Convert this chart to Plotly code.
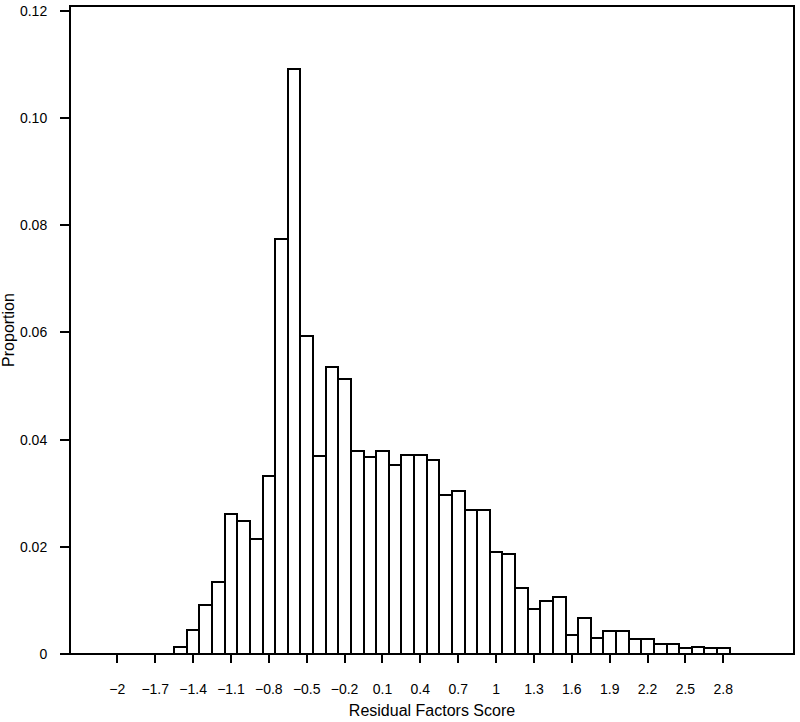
import plotly.graph_objects as go

bin_centers = [-1.5, -1.4, -1.3, -1.2, -1.1, -1.0, -0.9, -0.8, -0.7, -0.6,
               -0.5, -0.4, -0.3, -0.2, -0.1, 0.0, 0.1, 0.2, 0.3, 0.4,
               0.5, 0.6, 0.7, 0.8, 0.9, 1.0, 1.1, 1.2, 1.3, 1.4,
               1.5, 1.6, 1.7, 1.8, 1.9, 2.0, 2.1, 2.2, 2.3, 2.4,
               2.5, 2.6, 2.7, 2.8]
proportion = [0.0013, 0.0045, 0.0092, 0.0134, 0.0261, 0.0249, 0.0215, 0.0333, 0.0775, 0.1091,
              0.0594, 0.0370, 0.0536, 0.0514, 0.0378, 0.0368, 0.0378, 0.0353, 0.0371, 0.0371,
              0.0362, 0.0296, 0.0305, 0.0268, 0.0268, 0.0190, 0.0186, 0.0123, 0.0084, 0.0099,
              0.0106, 0.0036, 0.0067, 0.0030, 0.0043, 0.0043, 0.0028, 0.0028, 0.0019, 0.0019,
              0.0011, 0.0013, 0.0011, 0.0011]

x_tick_vals = [-2, -1.7, -1.4, -1.1, -0.8, -0.5, -0.2, 0.1, 0.4, 0.7, 1, 1.3, 1.6, 1.9, 2.2, 2.5, 2.8]
x_tick_text = ["\u22122", "\u22121.7", "\u22121.4", "\u22121.1", "\u22120.8", "\u22120.5", "\u22120.2",
               "0.1", "0.4", "0.7", "1", "1.3", "1.6", "1.9", "2.2", "2.5", "2.8"]
y_tick_vals = [0, 0.02, 0.04, 0.06, 0.08, 0.10, 0.12]
y_tick_text = ["0", "0.02", "0.04", "0.06", "0.08", "0.10", "0.12"]

FONT = "Liberation Sans Narrow, Arial Narrow, Liberation Sans, Arial, sans-serif"

fig = go.Figure()
fig.add_trace(go.Bar(
    x=bin_centers, y=proportion, width=0.1,
    marker=dict(color="white", line=dict(color="black", width=2)),
    showlegend=False, hoverinfo="x+y",
))

fig.update_layout(
    width=800, height=722,
    margin=dict(l=70, r=6, t=6, b=68, autoexpand=False),
    paper_bgcolor="white", plot_bgcolor="white",
    font=dict(family=FONT, size=14, color="black"),
    bargap=0,
    shapes=[dict(type="rect", xref="x domain", yref="y domain",
                 x0=0, x1=1, y0=0, y1=1, line=dict(color="black", width=2),
                 layer="above")],
)
fig.update_xaxes(
    range=[-2.375, 3.36], showgrid=False, zeroline=False, showline=False,
    automargin=False,
    tickmode="array", tickvals=x_tick_vals, ticktext=x_tick_text,
    ticks="outside", ticklen=8, tickwidth=1.5, tickcolor="black",
    ticklabelstandoff=14,
    title=dict(text="Residual Factors Score", standoff=9, font=dict(size=16)),
)
fig.update_yaxes(
    range=[0, 0.12093], showgrid=False, zeroline=False, showline=False,
    automargin=False,
    tickmode="array", tickvals=y_tick_vals, ticktext=y_tick_text,
    ticks="outside", ticklen=9, tickwidth=1.5, tickcolor="black",
    ticklabelstandoff=10,
    title=dict(text="Proportion", standoff=1, font=dict(size=16)),
)

fig.write_html("out.html", config={"displayModeBar": False},
               post_script="document.body.style.margin='0';")
